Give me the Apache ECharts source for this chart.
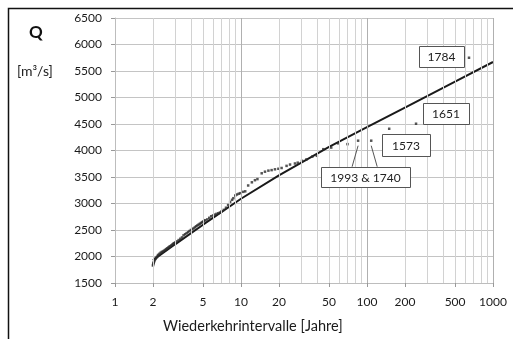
<!DOCTYPE html>
<html lang="de">
<head>
    <meta charset="UTF-8">
    <title>Wiederkehrintervalle</title>
    <script src="https://cdn.jsdelivr.net/npm/echarts/dist/echarts.min.js"></script>
    <style>
        body { margin: 0; background: #ffffff; }
        #chart { width: 513px; height: 339px; }
    </style>
</head>
<body>
<div id="chart"></div>
<script>
// Wiederkehrintervall T [Jahre] und Abfluss Q [m3/s]
var returnT = [
    2.00, 2.01, 2.02, 2.03, 2.04, 2.05, 2.06, 2.08, 2.10, 2.12, 2.15, 2.18, 2.20, 2.25, 2.30,
    2.35, 2.40, 2.45, 2.50, 2.55, 2.60, 2.65, 2.70, 2.75, 2.80, 2.85, 2.90, 2.95, 3.00, 3.10,
    3.20, 3.30, 3.40, 3.50, 3.60, 3.70, 3.80, 3.90, 4.00, 4.10, 4.20, 4.30, 4.40, 4.50, 4.60,
    4.70, 4.80, 4.90, 5.00, 5.10, 5.20, 5.40, 5.60, 5.80, 6.00, 6.20, 6.40, 6.60, 6.80, 7.00,
    7.30, 7.60, 7.90, 8.20, 8.50, 8.70, 9.00, 9.30, 9.60, 9.90, 10.4, 10.8, 11.4, 12.2, 12.9,
    13.5, 14.6, 15.5, 16.5, 17.5, 18.6, 19.8, 21.0, 23.0, 24.5, 26.8, 28.2, 30.5, 33.0, 36.8,
    40.0, 45.0, 52.0, 59.0, 70.0, 85.0, 108, 150, 245, 645
];
var peakQ = [
    1830, 1850, 1870, 1885, 1900, 1920, 1940, 1950, 1960, 1975, 1990, 2010, 2030, 2050, 2070,
    2085, 2095, 2110, 2125, 2140, 2155, 2170, 2185, 2195, 2210, 2225, 2240, 2250, 2265, 2285,
    2310, 2335, 2360, 2400, 2420, 2440, 2460, 2480, 2500, 2515, 2530, 2550, 2570, 2585, 2600,
    2615, 2630, 2645, 2660, 2670, 2685, 2700, 2730, 2760, 2775, 2790, 2805, 2815, 2830, 2850,
    2880, 2920, 2970, 3030, 3070, 3100, 3150, 3170, 3185, 3195, 3220, 3230, 3340, 3400, 3440,
    3460, 3570, 3600, 3620, 3630, 3645, 3655, 3670, 3710, 3735, 3755, 3770, 3805, 3830, 3885,
    3900, 4025, 4055, 4135, 4120, 4185, 4185, 4410, 4505, 5750
];

// Ausgleichsgerade
var fitT = [2, 3, 5, 10, 20, 50, 100, 200, 500, 1000];
var fitQ = [1930, 2230, 2600, 3090, 3530, 4070, 4440, 4810, 5300, 5670];

// Achsen
var xLabels = [1, 2, 5, 10, 20, 50, 100, 200, 500, 1000];
var xGridValues = [2, 3, 4, 5, 6, 7, 8, 9, 10, 20, 30, 40, 50, 60, 70, 80, 90, 100,
                   200, 300, 400, 500, 600, 700, 800, 900, 1000];

// Beschriftete Ereignisse
var noteLabels = ['1784', '1651', '1573', '1993 & 1740'];
var noteT = [[645], [245], [150], [85, 108]];
var noteQ = [[5750], [4505], [4410], [4185, 4185]];

var chart = echarts.init(document.getElementById('chart'));
var font = 'Lato, "Open Sans", sans-serif';

var points = returnT.map(function (t, i) { return [t, peakQ[i]]; });
var fitLine = fitT.map(function (t, i) { return [t, fitQ[i]]; });

function plain(v) { return String(v); }

var option = {
    backgroundColor: '#ffffff',
    animation: false,
    grid: { left: 115, right: 20, top: 18, bottom: 56 },
    xAxis: {
        type: 'log',
        logBase: 10,
        min: 1,
        max: 1000,
        axisLine: { show: true, lineStyle: { color: '#bdbdbd' } },
        axisTick: { show: true, length: 4, lineStyle: { color: '#999' }, customValues: xLabels },
        axisLabel: { fontFamily: font, fontSize: 12, color: '#1a1a1a', margin: 13,
                     customValues: xLabels, formatter: plain },
        splitLine: { show: false },
        minorTick: { show: false },
        minorSplitLine: { show: false }
    },
    yAxis: {
        type: 'value',
        min: 1500,
        max: 6500,
        interval: 500,
        axisLine: { show: true, lineStyle: { color: '#bdbdbd' } },
        axisTick: { show: true, length: 4, lineStyle: { color: '#999' } },
        axisLabel: { fontFamily: font, fontSize: 12, color: '#1a1a1a', margin: 13, formatter: plain },
        splitLine: { show: true, lineStyle: { color: '#c4c4c4', width: 1 } }
    },
    series: [
        {
            type: 'line',
            data: [],
            silent: true,
            markLine: {
                silent: true,
                symbol: 'none',
                label: { show: false },
                lineStyle: { type: 'solid', color: '#cfcfcf', width: 1 },
                data: xGridValues.map(function (v) {
                    var major = (v === 10 || v === 100 || v === 1000);
                    return { xAxis: v, lineStyle: { color: major ? '#b0b0b0' : '#d2d2d2' } };
                })
            }
        },
        {
            type: 'line',
            data: fitLine,
            showSymbol: false,
            lineStyle: { color: '#1a1a1a', width: 2 },
            z: 3
        },
        {
            type: 'scatter',
            data: points,
            symbol: 'rect',
            symbolSize: 2.5,
            itemStyle: { color: '#2a2a2a' },
            z: 4
        }
    ],
    graphic: [
        { type: 'rect', left: 6, top: 6, shape: { width: 620, height: 420 },
          style: { fill: 'none', stroke: '#111', lineWidth: 1.5 }, silent: true },
        { type: 'text', left: 29, top: 24,
          style: { text: 'Q', font: 'bold 17px ' + font, fill: '#111' } },
        { type: 'text', left: 17, top: 64,
          style: { text: '[m³/s]', font: '14px ' + font, fill: '#222' } },
        { type: 'text', left: 163, top: 319,
          style: { text: 'Wiederkehrintervalle [Jahre]', font: '14.5px ' + font, fill: '#1a1a1a' } }
    ]
};

chart.setOption(option);

// Beschriftungskästen an den Punkten
function px(t, q) { return chart.convertToPixel({ gridIndex: 0 }, [t, q]); }

var boxOffsets = [
    { dx: -50, dy: -12, w: 45, h: 21 },
    { dx: 7, dy: -21, w: 46, h: 21 },
    { dx: -7, dy: 5, w: 48, h: 22 },
    { dx: -37, dy: 26, w: 89, h: 20 }
];
var extra = [];
noteLabels.forEach(function (label, i) {
    var p0 = px(noteT[i][0], noteQ[i][0]);
    var o = boxOffsets[i];
    var bx = p0[0] + o.dx, by = p0[1] + o.dy;
    if (noteT[i].length > 1) {
        var pa = px(noteT[i][0], noteQ[i][0]);
        var pb = px(noteT[i][1], noteQ[i][1]);
        extra.push({ type: 'line', shape: { x1: pa[0], y1: pa[1] + 5, x2: pa[0] - 6, y2: by },
                     style: { stroke: '#555', lineWidth: 1 }, z: 10 });
        extra.push({ type: 'line', shape: { x1: pb[0], y1: pb[1] + 5, x2: pb[0] + 6, y2: by },
                     style: { stroke: '#555', lineWidth: 1 }, z: 10 });
    }
    extra.push({
        type: 'rect', z: 11,
        shape: { x: Math.round(bx) + 0.5, y: Math.round(by) + 0.5, width: o.w, height: o.h },
        style: { fill: '#ffffff', stroke: '#555', lineWidth: 1 }
    });
    extra.push({
        type: 'text', z: 12,
        x: Math.round(bx) + o.w / 2, y: Math.round(by) + o.h / 2 + 1,
        style: { text: label, font: '12px ' + font, fill: '#222', align: 'center', verticalAlign: 'middle' }
    });
});
chart.setOption({ graphic: option.graphic.concat(extra) });
</script>
</body>
</html>
